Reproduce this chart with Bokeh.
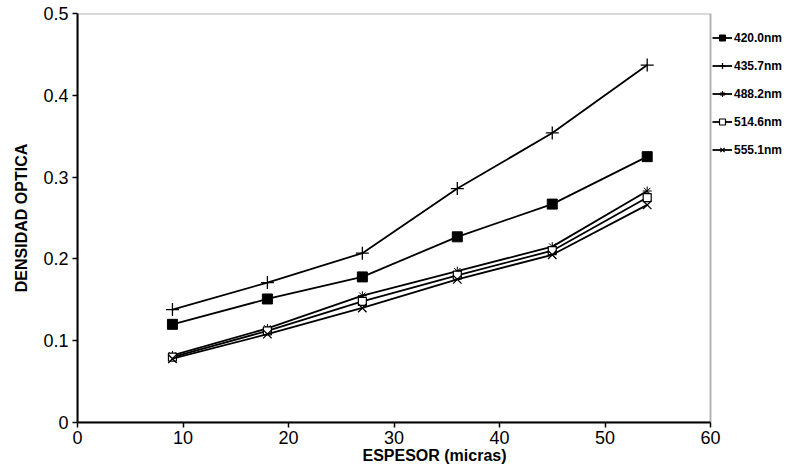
from bokeh.plotting import figure
from bokeh.models import Legend, LegendItem, FixedTicker, BoxAnnotation
from bokeh.embed import file_html
from bokeh.resources import INLINE

# ---- data ----
espesor = [9, 18, 27, 36, 45, 54]
do_420_0 = [0.120, 0.151, 0.178, 0.227, 0.267, 0.325]
do_435_7 = [0.138, 0.171, 0.207, 0.286, 0.354, 0.437]
do_488_2 = [0.082, 0.115, 0.155, 0.185, 0.215, 0.283]
do_514_6 = [0.080, 0.112, 0.148, 0.180, 0.210, 0.275]
do_555_1 = [0.078, 0.108, 0.140, 0.175, 0.205, 0.266]
series_labels = ["420.0nm", "435.7nm", "488.2nm", "514.6nm", "555.1nm"]
x_ticks = [0, 10, 20, 30, 40, 50, 60]
y_ticks = [0, 0.1, 0.2, 0.3, 0.4, 0.5]
x_lim = (0, 60)
y_lim = (0, 0.5)

FONT = "Liberation Sans"

# layout: the data box spans 633 px of a 714 px frame; the rest holds the legend
BOX_W, FRAME_W = 633, 714
x_end = x_lim[1] * FRAME_W / BOX_W

p = figure(width=791, height=472, x_range=(x_lim[0], x_end), y_range=y_lim,
           output_backend="svg", toolbar_location=None,
           min_border_left=77, min_border_right=0,
           min_border_top=13, min_border_bottom=50)
p.xgrid.visible = False
p.ygrid.visible = False
p.outline_line_color = None
p.background_fill_color = "white"
p.border_fill_color = "white"

p.add_layout(BoxAnnotation(left=x_lim[0], right=x_lim[1], bottom=y_lim[0], top=y_lim[1],
                           fill_alpha=0, line_color="black", line_width=2))

for ax in (p.xaxis[0], p.yaxis[0]):
    ax.axis_line_width = 2
    ax.axis_line_color = "black"
    ax.major_tick_line_width = 1.5
    ax.major_tick_line_color = "black"
    ax.major_tick_out = 5
    ax.major_tick_in = 0
    ax.minor_tick_line_color = None
    ax.major_label_text_font = FONT
    ax.major_label_text_font_size = "18px"
    ax.major_label_text_color = "black"
    ax.axis_label_text_font = FONT
    ax.axis_label_text_font_style = "bold"
    ax.axis_label_text_font_size = "16px"
    ax.axis_label_text_color = "black"

p.xaxis.bounds = x_lim
p.xaxis.ticker = FixedTicker(ticks=x_ticks)
p.yaxis.ticker = FixedTicker(ticks=y_ticks)
p.yaxis.major_label_overrides = {0: "0"}
p.xaxis.axis_label = "ESPESOR (micras)"
p.yaxis.axis_label = "DENSIDAD OPTICA"
p.xaxis.major_label_standoff = 3
p.xaxis.axis_label_standoff = 0
p.yaxis.major_label_standoff = 4
p.yaxis.axis_label_standoff = 10

LW = 1.8
items = []

def add_series(yvals, label, marker, size, fill, mlw):
    r_line = p.line(espesor, yvals, line_color="black", line_width=LW)
    r_pt = p.scatter(espesor, yvals, marker=marker, size=size,
                     fill_color=fill, line_color="black", line_width=mlw)
    items.append(LegendItem(label=label, renderers=[r_line, r_pt]))

add_series(do_420_0, series_labels[0], "square", 10, "black", 1)
add_series(do_435_7, series_labels[1], "cross", 13, None, 1.3)
add_series(do_488_2, series_labels[2], "asterisk", 9, None, 1)
add_series(do_514_6, series_labels[3], "square", 8, "white", 1.2)
add_series(do_555_1, series_labels[4], "x", 12, None, 1.3)

legend = Legend(items=items, location=(635, 265))
legend.glyph_width = 20
legend.glyph_height = 15
legend.label_height = 15
legend.label_standoff = 2
legend.label_text_font = FONT
legend.label_text_font_style = "bold"
legend.label_text_font_size = "12px"
legend.label_text_color = "black"
legend.spacing = 13
legend.padding = 0
legend.margin = 0
legend.border_line_alpha = 0
legend.background_fill_alpha = 0
p.add_layout(legend)

open("out.html", "w").write(file_html(p, INLINE))
